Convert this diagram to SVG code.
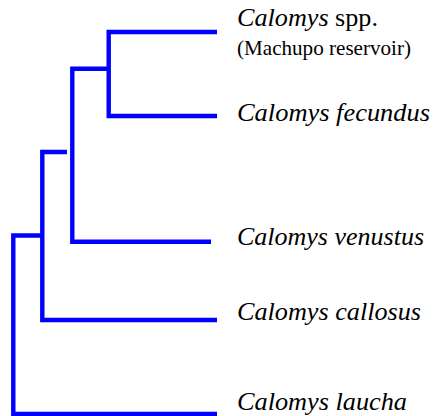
<svg xmlns="http://www.w3.org/2000/svg" width="434" height="416" viewBox="0 0 434 416">
<style>
.br{fill:none;stroke:#0000ff;stroke-width:4.4;stroke-linejoin:miter;stroke-linecap:butt}
.sp{font-family:"Liberation Serif","Times New Roman",serif;font-size:26px;font-style:italic;fill:#000}
.rg{font-style:normal}
.sm{font-family:"Liberation Serif","Times New Roman",serif;font-size:21px;fill:#000}
</style>
<rect width="434" height="416" fill="#fff"/>
<g id="connectors">
<path class="br" d="M217 32 H108.7 V116 H217"/>
<path class="br" d="M108.7 68.7 H72.3 V241.7 H211"/>
<path class="br" d="M67 152 H42.3 V320 H217"/>
<path class="br" d="M42.3 235.5 H13.3 V414 H217"/>
</g>
<g id="n1"><text class="sp" x="237" y="26" textLength="141" lengthAdjust="spacingAndGlyphs">Calomys <tspan class="rg">spp.</tspan></text>
<text class="sm" x="237" y="55" textLength="174" lengthAdjust="spacingAndGlyphs">(Machupo reservoir)</text></g>
<g id="n2"><text class="sp" x="237" y="121" textLength="193" lengthAdjust="spacingAndGlyphs">Calomys fecundus</text></g>
<g id="n3"><text class="sp" x="237" y="244.5" textLength="187" lengthAdjust="spacingAndGlyphs">Calomys venustus</text></g>
<g id="n4"><text class="sp" x="237" y="319.5" textLength="184" lengthAdjust="spacingAndGlyphs">Calomys callosus</text></g>
<g id="n5"><text class="sp" x="237" y="410" textLength="170" lengthAdjust="spacingAndGlyphs">Calomys laucha</text></g>
</svg>
